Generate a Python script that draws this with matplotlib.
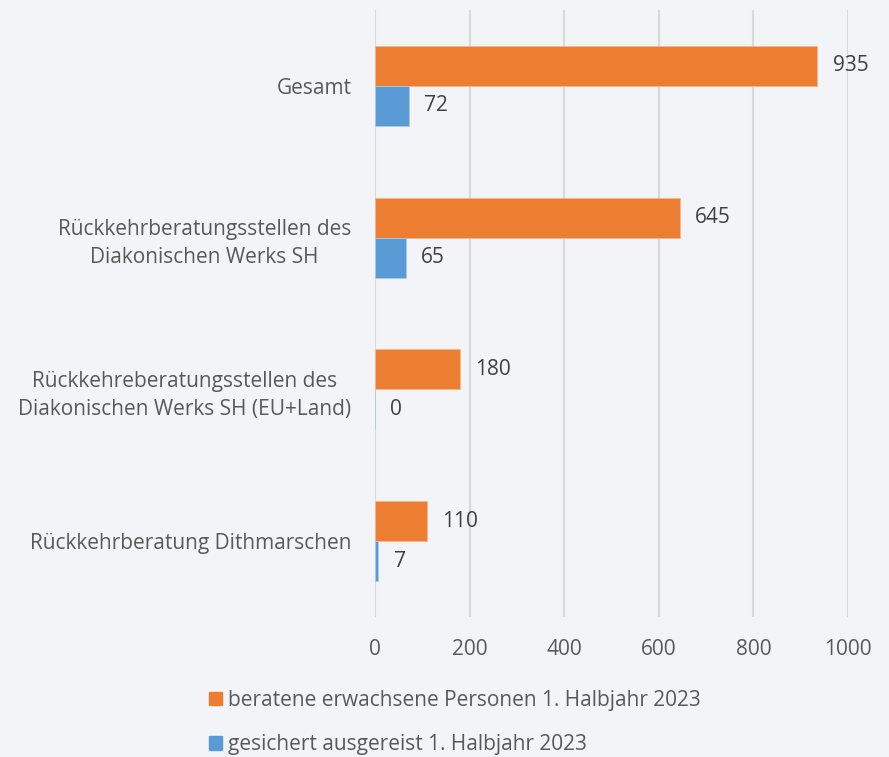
import matplotlib.pyplot as plt
from matplotlib.patches import Patch
import numpy as np

# Daten
kategorien = ["Gesamt",
              "Rückkehrberatungsstellen des\nDiakonischen Werks SH",
              "Rückkehreberatungsstellen des\nDiakonischen Werks SH (EU+Land)",
              "Rückkehrberatung Dithmarschen"]
beratene = [935, 645, 180, 110]
ausgereist = [72, 65, 0, 7]
serien_namen = ["beratene erwachsene Personen 1. Halbjahr 2023",
                "gesichert ausgereist 1. Halbjahr 2023"]

bg = "#F2F4F8"
orange = "#ED7D31"
blau = "#5B9BD5"
textfarbe = "#404040"
fs = 15

plt.rcParams['font.family'] = ['Open Sans', 'DejaVu Sans']

fig = plt.figure(figsize=(8.89, 7.57), dpi=100, facecolor=bg)
ax = fig.add_axes([375/889, 1-617/757, (848-375)/889, (617-10)/757])
ax.set_facecolor(bg)

y = np.arange(len(kategorien))
h = 0.264
b1 = ax.barh(y - h/2, beratene, height=h, color=orange, edgecolor="#F6B68E", linewidth=0.6, zorder=3)
b2 = ax.barh(y + h/2, ausgereist, height=h, color=blau, edgecolor="#A9CBEA", linewidth=0.6, zorder=3)

for bars, werte in [(b1, beratene), (b2, ausgereist)]:
    for bar, w in zip(bars, werte):
        ax.annotate(str(w), (w, bar.get_y() + bar.get_height()/2),
                    xytext=(11, 0), textcoords="offset points",
                    va="center", ha="left", fontsize=fs, color=textfarbe)

ax.set_xlim(0, 1000)
ax.set_ylim(3.5, -0.5)
ax.set_xticks(range(0, 1001, 200))
ax.xaxis.grid(True, color="#D9D9D9", linewidth=1.5, zorder=0)
ax.set_axisbelow(True)
for s in ax.spines.values():
    s.set_visible(False)
ax.tick_params(axis="both", length=0, labelsize=fs, colors="#595959")
ax.tick_params(axis="x", pad=15.5)
ax.tick_params(axis="y", pad=17)
ax.set_yticks(y)
ax.set_yticklabels(kategorien, multialignment="center", linespacing=1.45)

handles = [Patch(color=orange), Patch(color=blau)]
fig.legend(handles, serien_namen, loc="upper left", bbox_to_anchor=(209/889, 1-690/757),
           frameon=False, fontsize=fs, handlelength=0.6, handleheight=0.6,
           handletextpad=0.3, labelspacing=1.12, labelcolor="#595959",
           borderpad=0, borderaxespad=0)

fig.savefig("out.png", dpi=100, facecolor=bg)
